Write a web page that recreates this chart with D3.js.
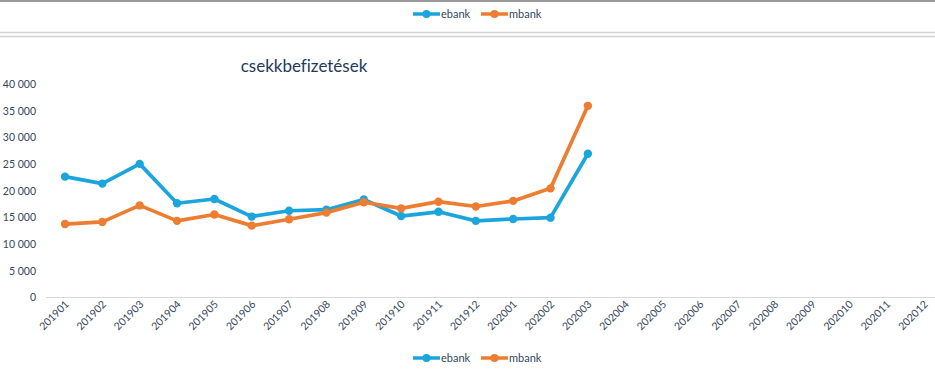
<!DOCTYPE html>
<html>
<head>
<meta charset="utf-8">
<script src="https://cdn.jsdelivr.net/npm/d3@7"></script>
<style>
  html, body { margin: 0; padding: 0; background: #fff; }
  svg { display: block; font-family: Lato, "Open Sans", sans-serif; font-variant-ligatures: none; font-feature-settings: "liga" 0; }
</style>
</head>
<body>
<svg id="chart" width="935" height="370"></svg>
<script>
const months = ["201901","201902","201903","201904","201905","201906","201907","201908","201909","201910","201911","201912",
                "202001","202002","202003","202004","202005","202006","202007","202008","202009","202010","202011","202012"];
const ebank = [22600, 21300, 25000, 17600, 18400, 15100, 16200, 16400, 18300, 15200, 16000, 14300, 14650, 14900, 26900];
const mbank = [13700, 14100, 17200, 14300, 15500, 13400, 14600, 15850, 17800, 16650, 17900, 17000, 18050, 20400, 35900];
const yTicks = [0, 5000, 10000, 15000, 20000, 25000, 30000, 35000, 40000];
const seriesNames = ["ebank", "mbank"];
const colors = ["#1ba5dc", "#ed7d31"];
const title = "csekkbefizetések";

const svg = d3.select("#chart");
const textColor = "#34465a";

// frame lines
svg.append("rect").attr("x", 0).attr("y", 0).attr("width", 935).attr("height", 2).attr("fill", "#9a9a9a");
[32.5, 36.5].forEach(y => svg.append("line").attr("x1", 0).attr("x2", 935).attr("y1", y).attr("y2", y)
  .attr("stroke", "#d2d2d2").attr("stroke-width", 1.3));

const x = d3.scalePoint().domain(months).range([65, 924]);
const y = d3.scaleLinear().domain([0, 40000]).range([297, 84]);

// y axis labels
const fmt = v => v === 0 ? "0" : d3.format(",")(v).replace(/,/g, " ");
const yAxis = d3.axisLeft(y).tickValues(yTicks).tickFormat(fmt).tickSize(0).tickPadding(0);
const gy = svg.append("g").attr("transform", "translate(36,0)").call(yAxis);
gy.select(".domain").remove();
gy.selectAll("text").attr("fill", textColor).attr("font-size", 10.5).attr("font-family", "Lato, sans-serif").attr("dy", "0.35em");

// x axis
svg.append("line").attr("x1", 46).attr("x2", 935).attr("y1", y(0) + 0.5).attr("y2", y(0) + 0.5)
  .attr("stroke", "#d9d9d9").attr("stroke-width", 1);
const xAxis = d3.axisBottom(x).tickSize(0).tickPadding(0);
const gx = svg.append("g").attr("transform", `translate(0,${y(0)})`).call(xAxis);
gx.select(".domain").remove();
gx.selectAll("text")
  .attr("fill", textColor).attr("font-size", 10.5).attr("font-family", "Lato, sans-serif")
  .attr("text-anchor", "end").attr("dy", null).attr("y", 0)
  .attr("transform", "translate(4,8) rotate(-45)");

// title
svg.append("text").attr("x", 304).attr("y", 72).attr("text-anchor", "middle")
  .attr("fill", "#1f3a5c").attr("font-size", 17).attr("font-family", "Lato, sans-serif").text(title);

// lines
const data = [ebank, mbank];
const line = d3.line().x((d, i) => x(months[i])).y(d => y(d));
data.forEach((vals, si) => {
  svg.append("path").datum(vals).attr("d", line).attr("fill", "none")
    .attr("stroke", colors[si]).attr("stroke-width", 3.7).attr("stroke-linejoin", "round");
  svg.append("g").selectAll("circle").data(vals).join("circle")
    .attr("cx", (d, i) => x(months[i])).attr("cy", d => y(d)).attr("r", 4.2).attr("fill", colors[si]);
});

// legends (top and bottom)
function legend(cy) {
  const g = svg.append("g");
  const starts = [413, 481];
  seriesNames.forEach((n, i) => {
    const sx = starts[i];
    g.append("line").attr("x1", sx).attr("x2", sx + 27).attr("y1", cy).attr("y2", cy)
      .attr("stroke", colors[i]).attr("stroke-width", 3.5);
    g.append("circle").attr("cx", sx + 13.5).attr("cy", cy).attr("r", 4).attr("fill", colors[i]);
    g.append("text").attr("x", sx + 28).attr("y", cy).attr("dy", "0.35em")
      .attr("fill", textColor).attr("font-size", 11).attr("font-family", "Lato, sans-serif").text(n);
  });
}
legend(14);
legend(358);
</script>
</body>
</html>
